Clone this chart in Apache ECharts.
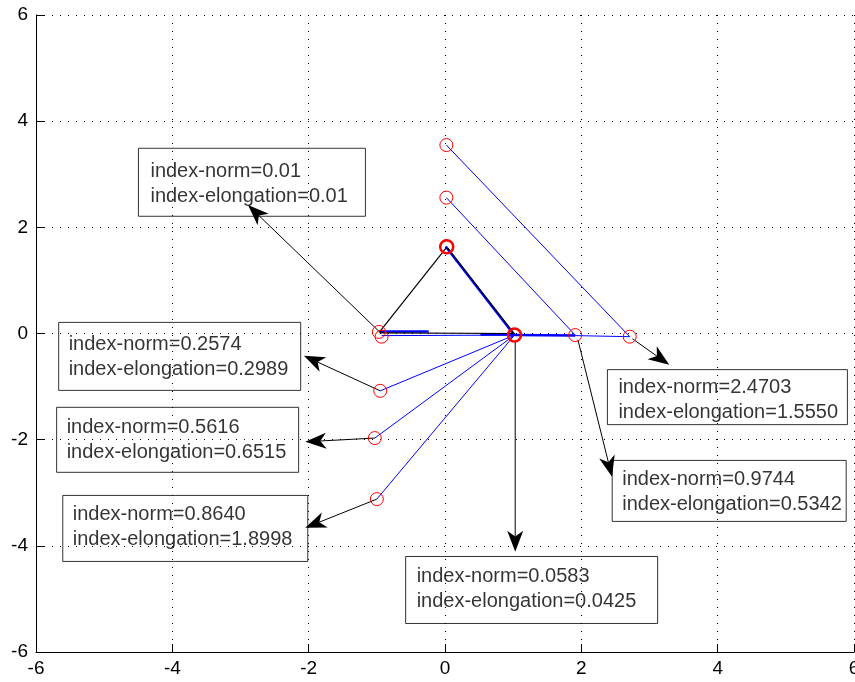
<!DOCTYPE html>
<html>
<head>
<meta charset="utf-8">
<title>index-norm / index-elongation</title>
<script src="https://cdn.jsdelivr.net/npm/echarts@6/dist/echarts.min.js"></script>
<style>
	html,body{margin:0;padding:0;background:#fff;}
	#chart{width:855px;height:682px;}
</style>
</head>
<body>
<div id="chart"></div>
<script>
// axis ticks (same on both axes)
var tickValues = [-6, -4, -2, 0, 2, 4, 6];

// red circles
var circlePoints = [[0.02,3.55],[0.02,2.56],[-0.97,0.03],[-0.93,-0.06],[1.91,-0.03],[2.71,-0.06],[-0.95,-1.08],[-1.03,-1.97],[-1.00,-3.12]];
// circles drawn several times on top of each other
var heavyCircles = [[1.02,-0.03],[0.025,1.635]];

// blue segments
var blueThin = [
	[[0.02,3.55],[2.71,-0.06]],
	[[0.02,2.56],[1.91,-0.03]],
	[[0.03,1.60],[1.02,-0.04]],
	[[-0.93,-0.04],[1.02,-0.03]],
	[[1.91,-0.04],[2.71,-0.06]],
	[[1.02,-0.03],[-0.95,-1.08]],
	[[1.02,-0.03],[-1.03,-1.97]],
	[[1.02,-0.03],[-1.00,-3.12]]
];
var blueThick = [
	[[0.01,1.64],[1.01,-0.02]],
	[[-0.96,0.04],[-0.24,0.04]],
	[[0.52,-0.02],[1.02,-0.02]],
	[[1.02,-0.03],[1.91,-0.04]]
];
// black segments
var blackLines = [
	[[-0.96,0.03],[0.02,1.62]],
	[[0.04,1.61],[1.02,-0.01]],
	[[-0.96,0.01],[1.00,0.00]]
];

// arrows: start point -> tip
var arrowFrom = [[-0.96,0.03],[-0.95,-1.08],[-1.03,-1.97],[-1.00,-3.12],[1.03,-0.15],[1.95,-0.12],[2.75,-0.10]];
var arrowTo = [[-2.89,2.42],[-2.07,-0.42],[-2.05,-2.04],[-2.05,-3.66],[1.03,-4.11],[2.45,-2.70],[3.29,-0.59]];

// text boxes (top-left corner in data units)
var boxAnchor = [[-4.49,3.48],[-5.66,0.20],[-5.69,-1.40],[-5.60,-3.06],[-0.57,-4.21],[2.39,-0.69],[2.46,-2.40]];
var normText = ['0.01','0.2574','0.5616','0.8640','0.0583','2.4703','0.9744'];
var elongText = ['0.01','0.2989','0.6515','1.8998','0.0425','1.5550','0.5342'];

// box sizes / paddings
var boxStyle = [
	{w: 227, pad: [10.5, 0, 7.5, 12]},
	{w: 242, pad: [9.5, 0, 8.5, 10]},
	{w: 242, pad: [7.5, 0, 7.5, 10]},
	{w: 245, pad: [6.5, 0, 9.5, 10]},
	{w: 252, pad: [7.5, 0, 9.5, 11]},
	{w: 240, pad: [5, 0, 0, 11]},
	{w: 234, pad: [6.5, 0, 4.5, 10]}
];

var chart = echarts.init(document.getElementById('chart'));

function toLines(segs) {
	return segs.map(function(s) { return {coords: s}; });
}

var arrowData = arrowFrom.map(function(p, i) {
	return [p[0], p[1], arrowTo[i][0], arrowTo[i][1]];
});

var boxData = boxAnchor.map(function(p, i) {
	var st = boxStyle[i];
	return {
		value: p,
		label: {
			formatter: 'index-norm=' + normText[i] + '\nindex-elongation=' + elongText[i],
			padding: st.pad,
			width: st.w - st.pad[1] - st.pad[3]
		}
	};
});

function renderArrow(params, api) {
	var p0 = api.coord([api.value(0), api.value(1)]);
	var p1 = api.coord([api.value(2), api.value(3)]);
	var dx = p1[0] - p0[0], dy = p1[1] - p0[1];
	var len = Math.sqrt(dx * dx + dy * dy);
	var ux = dx / len, uy = dy / len;
	var L = 21, W = 8;
	var bx = p1[0] - ux * L, by = p1[1] - uy * L;
	var nx = p1[0] - ux * L * 0.72, ny = p1[1] - uy * L * 0.72;
	return {
		type: 'group',
		children: [
			{type: 'line', shape: {x1: p0[0], y1: p0[1], x2: nx, y2: ny}, style: {stroke: '#000', lineWidth: 1}},
			{type: 'polygon', shape: {points: [[p1[0], p1[1]], [bx - uy * W, by + ux * W], [nx, ny], [bx + uy * W, by - ux * W]]}, style: {fill: '#000'}}
		]
	};
}

var axisCommon = {
	type: 'value',
	min: tickValues[0],
	max: tickValues[tickValues.length - 1],
	interval: tickValues[1] - tickValues[0],
	axisLine: {onZero: false, lineStyle: {color: '#000', width: 1}},
	axisTick: {inside: true, length: 8, lineStyle: {color: '#000'}},
	axisLabel: {color: '#000', fontSize: 19, fontFamily: 'Liberation Sans, Arial, sans-serif'},
	splitLine: {show: true, lineStyle: {color: '#000', width: 1, type: [1, 7]}}
};

var option = {
	backgroundColor: '#fff',
	animation: false,
	grid: {left: 36, right: 1, top: 15, bottom: 30, containLabel: false, outerBoundsMode: 'none'},
	xAxis: echarts.util.merge({axisLabel: {margin: 7}}, axisCommon, true),
	yAxis: echarts.util.merge({axisLabel: {margin: 8}}, axisCommon, true),
	series: [
		{
			type: 'lines', coordinateSystem: 'cartesian2d', silent: true,
			lineStyle: {color: '#0000ff', width: 1, opacity: 1},
			data: toLines(blueThin)
		},
		{
			type: 'lines', coordinateSystem: 'cartesian2d', silent: true,
			lineStyle: {color: '#0000ff', width: 2.5, opacity: 1},
			data: toLines(blueThick)
		},
		{
			type: 'lines', coordinateSystem: 'cartesian2d', silent: true,
			lineStyle: {color: '#000', width: 1.2, opacity: 1},
			data: toLines(blackLines)
		},
		{
			type: 'custom', coordinateSystem: 'cartesian2d', silent: true,
			encode: {x: [0, 2], y: [1, 3]},
			renderItem: renderArrow,
			data: arrowData
		},
		{
			type: 'scatter', silent: true, symbol: 'circle', symbolSize: 13,
			itemStyle: {color: 'rgba(0,0,0,0)', borderColor: '#ff0000', borderWidth: 1, opacity: 1},
			data: circlePoints
		},
		{
			type: 'scatter', silent: true, symbol: 'circle', symbolSize: 13,
			itemStyle: {color: 'rgba(0,0,0,0)', borderColor: '#ff0000', borderWidth: 2.5, opacity: 1},
			data: heavyCircles
		},
		{
			type: 'scatter', silent: true, symbolSize: 1,
			itemStyle: {color: 'rgba(0,0,0,0)'},
			label: {
				show: true,
				position: [0, 0],
				color: '#000',
				fontSize: 20,
				lineHeight: 25,
				fontFamily: 'Liberation Sans, Arial, sans-serif',
				borderColor: '#000',
				borderWidth: 1
			},
			data: boxData
		}
	]
};

chart.setOption(option);
</script>
</body>
</html>
